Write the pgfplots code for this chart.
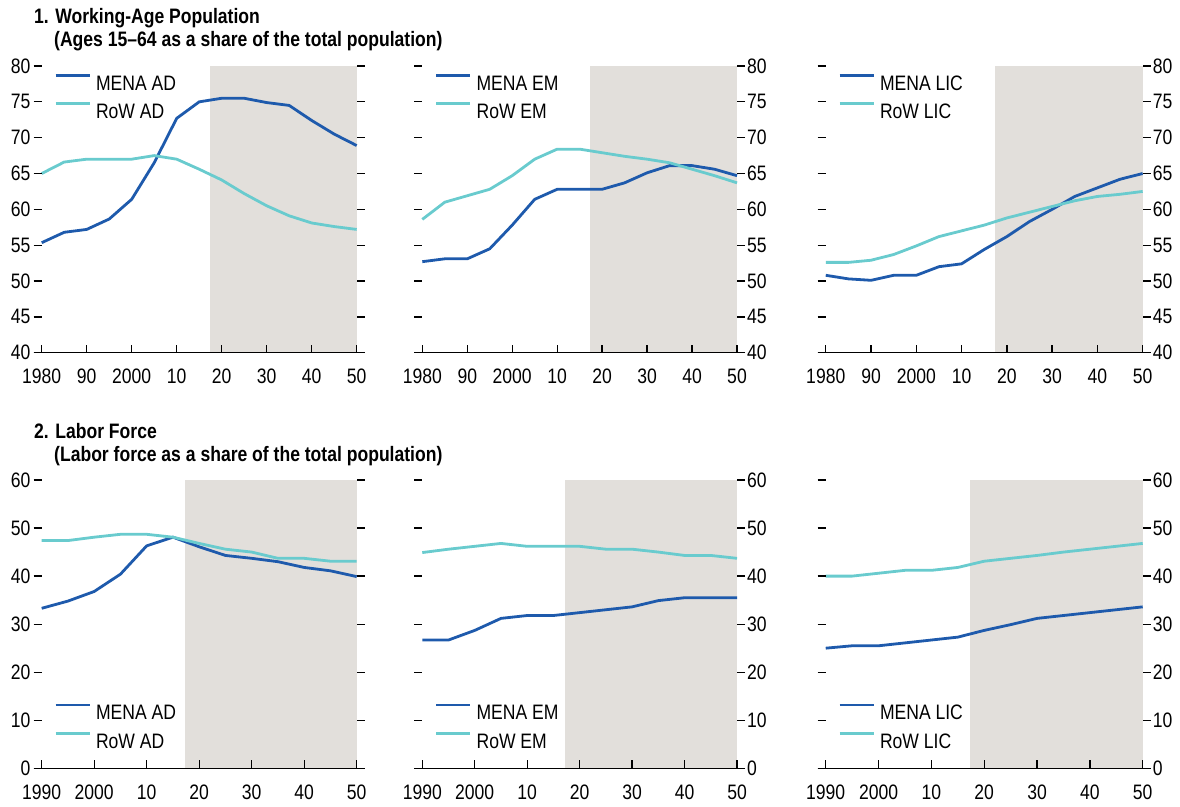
\documentclass[border=0pt]{standalone}
\usepackage{fontspec}
\setmainfont{Liberation Sans}[FakeStretch=0.84]
\usepackage{pgfplots}
\pgfplotsset{compat=1.18}
\definecolor{mena}{RGB}{30,90,172}
\definecolor{rowc}{RGB}{105,203,206}
\definecolor{shade}{RGB}{226,223,219}
\newcommand{\fs}{\fontsize{20.9}{24}\selectfont}
\pgfplotsset{
 panel/.style={
  scale only axis,
  axis x line*=bottom,
  axis y line*=box,
  y axis line style={draw=none},
  x axis line style={line width=1.4pt,-},
  tick align=inside,
  major tick length=8pt,
  every tick/.style={black,line width=1.3pt},
  axis on top,
  tick label style={font=\fs, inner sep=0pt},
  /pgf/number format/assume math mode=true,
  xticklabel style={yshift=-16pt},
  legend style={draw=none, fill=none, font=\fs, inner sep=0pt, row sep=12pt,
    nodes={inner sep=0pt, text height=15pt, text depth=0pt},
    /tikz/every odd column/.append style={column sep=5pt}},
  legend cell align=left,
  legend image code/.code={\draw[##1] (0pt,7.5pt) -- (34pt,7.5pt);},
 },
 menal/.style={color=mena, line width=2.8pt},
 rowl/.style={color=rowc, line width=2.8pt},
 toprow/.style={panel, height=286.7pt, ymin=40, ymax=80, ytick={40,45,...,80},
   xmin=1978.22, xmax=2051.78, xtick={1980,1990,...,2050},
   xticklabels={1980,90,2000,10,20,30,40,50},
   legend style={at={(0,1)}, anchor=north west, xshift=20.3pt, yshift=-7.6pt}},
 botrow/.style={panel, height=288.3pt, ymin=0, ymax=60, ytick={0,10,...,60},
   xmin=1988.48, xmax=2051.52, xtick={1990,2000,...,2050},
   xticklabels={1990,2000,10,20,30,40,50},
   legend style={at={(0,0)}, anchor=south west, xshift=20.3pt, yshift=19.8pt}},
 lefty/.style={yticklabel pos=left, yticklabel style={xshift=-3pt}},
 righty/.style={yticklabel pos=right, yticklabel style={xshift=2pt}},
}
\begin{document}
\begin{tikzpicture}
\path[use as bounding box] (0pt,0pt) rectangle (1180pt,-806pt);
\node[anchor=base west, inner sep=0pt, font=\bfseries\fs] at (34pt,-23pt) {1. Working-Age Population};
\node[anchor=base west, inner sep=0pt, font=\bfseries\fs] at (54pt,-46.5pt) {(Ages 15--64 as a share of the total population)};
\node[anchor=base west, inner sep=0pt, font=\bfseries\fs] at (34pt,-438pt) {2. Labor Force};
\node[anchor=base west, inner sep=0pt, font=\bfseries\fs] at (54pt,-461.5pt) {(Labor force as a share of the total population)};

% Panel 1
\begin{axis}[toprow, lefty, at={(33.7pt,-352.7pt)}, anchor=south west, width=331pt]
\addplot[fill=shade, draw=none, forget plot] coordinates {(2017.3,40) (2050,40) (2050,80) (2017.3,80)} -- cycle;
\addplot[menal] coordinates {(1980,55.35) (1985,56.8) (1990,57.2) (1995,58.65) (2000,61.4) (2005,66.5) (2010,72.7) (2015,75.0) (2020,75.5) (2025,75.5) (2030,74.9) (2035,74.5) (2040,72.4) (2045,70.5) (2050,68.9)};
\addplot[rowl] coordinates {(1980,65.0) (1985,66.6) (1990,67.0) (1995,67.0) (2000,67.0) (2005,67.5) (2010,67.0) (2015,65.6) (2020,64.1) (2025,62.2) (2030,60.5) (2035,59.1) (2040,58.1) (2045,57.6) (2050,57.2)};
\legend{MENA AD, RoW AD}
\end{axis}

% Panel 2
\begin{axis}[toprow, righty, at={(414.3pt,-352.7pt)}, anchor=south west, width=330.7pt]
\addplot[fill=shade, draw=none, forget plot] coordinates {(2017.3,40) (2050,40) (2050,80) (2017.3,80)} -- cycle;
\addplot[menal] coordinates {(1980,52.7) (1985,53.1) (1990,53.1) (1995,54.5) (2000,57.8) (2005,61.4) (2010,62.8) (2015,62.8) (2020,62.8) (2025,63.7) (2030,65.1) (2035,66.1) (2040,66.1) (2045,65.6) (2050,64.7)};
\addplot[rowl] coordinates {(1980,58.6) (1985,61.0) (1990,61.9) (1995,62.8) (2000,64.7) (2005,67.0) (2010,68.4) (2015,68.4) (2020,67.9) (2025,67.4) (2030,67.0) (2035,66.5) (2040,65.6) (2045,64.7) (2050,63.7)};
\legend{MENA EM, RoW EM}
\end{axis}

% Panel 3
\begin{axis}[toprow, righty, at={(817.7pt,-352.7pt)}, anchor=south west, width=333pt]
\addplot[fill=shade, draw=none, forget plot] coordinates {(2017.3,40) (2050,40) (2050,80) (2017.3,80)} -- cycle;
\addplot[menal] coordinates {(1980,50.8) (1985,50.3) (1990,50.1) (1995,50.8) (2000,50.8) (2005,52.0) (2010,52.4) (2015,54.4) (2020,56.2) (2025,58.3) (2030,60.0) (2035,61.8) (2040,63.0) (2045,64.2) (2050,65.0)};
\addplot[rowl] coordinates {(1980,52.6) (1985,52.6) (1990,52.9) (1995,53.7) (2000,54.9) (2005,56.2) (2010,57.0) (2015,57.8) (2020,58.8) (2025,59.6) (2030,60.4) (2035,61.2) (2040,61.8) (2045,62.1) (2050,62.5)};
\legend{MENA LIC, RoW LIC}
\end{axis}

% Panel 4
\begin{axis}[botrow, lefty, at={(33.7pt,-768.3pt)}, anchor=south west, width=331pt]
\addplot[fill=shade, draw=none, forget plot] coordinates {(2017.3,0) (2050,0) (2050,60) (2017.3,60)} -- cycle;
\addplot[menal] coordinates {(1990,33.3) (1995,34.8) (2000,36.8) (2005,40.4) (2010,46.3) (2015,48.1) (2020,46.1) (2025,44.3) (2030,43.7) (2035,43.0) (2040,41.8) (2045,41.1) (2050,39.9)};
\addplot[rowl] coordinates {(1990,47.4) (1995,47.4) (2000,48.1) (2005,48.7) (2010,48.7) (2015,48.1) (2020,46.8) (2025,45.6) (2030,45.0) (2035,43.7) (2040,43.7) (2045,43.1) (2050,43.1)};
\legend{MENA AD, RoW AD}
\end{axis}

% Panel 5
\begin{axis}[botrow, righty, at={(414.3pt,-768.3pt)}, anchor=south west, width=330.7pt]
\addplot[fill=shade, draw=none, forget plot] coordinates {(2017.3,0) (2050,0) (2050,60) (2017.3,60)} -- cycle;
\addplot[menal] coordinates {(1990,26.7) (1995,26.7) (2000,28.7) (2005,31.2) (2010,31.8) (2015,31.8) (2020,32.4) (2025,33.0) (2030,33.6) (2035,34.9) (2040,35.5) (2045,35.5) (2050,35.5)};
\addplot[rowl] coordinates {(1990,44.9) (1995,45.6) (2000,46.2) (2005,46.8) (2010,46.2) (2015,46.2) (2020,46.2) (2025,45.6) (2030,45.6) (2035,45.0) (2040,44.3) (2045,44.3) (2050,43.7)};
\legend{MENA EM, RoW EM}
\end{axis}

% Panel 6
\begin{axis}[botrow, righty, at={(817.7pt,-768.3pt)}, anchor=south west, width=333pt]
\addplot[fill=shade, draw=none, forget plot] coordinates {(2017.3,0) (2050,0) (2050,60) (2017.3,60)} -- cycle;
\addplot[menal] coordinates {(1990,25.0) (1995,25.5) (2000,25.5) (2005,26.1) (2010,26.7) (2015,27.3) (2020,28.7) (2025,29.9) (2030,31.2) (2035,31.8) (2040,32.4) (2045,33.0) (2050,33.6)};
\addplot[rowl] coordinates {(1990,40.0) (1995,40.0) (2000,40.6) (2005,41.2) (2010,41.2) (2015,41.8) (2020,43.1) (2025,43.7) (2030,44.3) (2035,45.0) (2040,45.6) (2045,46.2) (2050,46.8)};
\legend{MENA LIC, RoW LIC}
\end{axis}
\end{tikzpicture}
\end{document}
